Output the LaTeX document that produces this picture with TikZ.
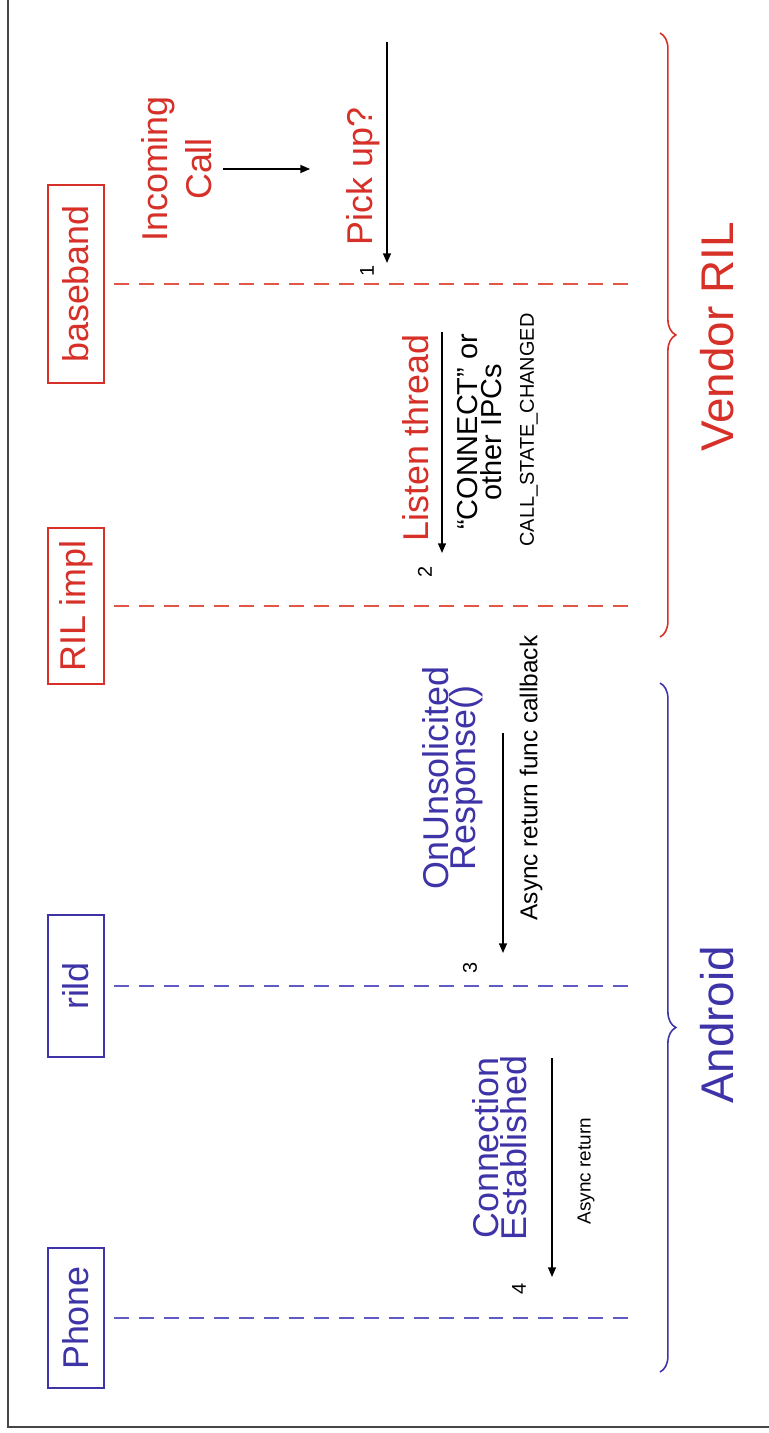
\documentclass[tikz,border=0pt]{standalone}
\usepackage{fontspec}
\setmainfont{Liberation Sans}
\usetikzlibrary{arrows.meta,decorations.pathreplacing}
\definecolor{vred}{RGB}{214,48,40}
\definecolor{vredl}{RGB}{226,86,72}
\definecolor{vblue}{RGB}{62,52,168}
\definecolor{vbluel}{RGB}{96,90,196}
\definecolor{framec}{RGB}{70,70,70}
\tikzset{
  lbl/.style={rotate=90, inner sep=0pt},
  big/.style={font=\fontsize{20.41}{24.94}\selectfont},
  actor/.style={draw, line width=1.1pt, rotate=90, inner sep=0pt,
    minimum height=32.3pt, font=\fontsize{20.41}{24}\selectfont},
  life/.style={line width=1.1pt, dash pattern=on 8.5pt off 5.7pt, shorten <=5.1pt},
  msg/.style={-{Triangle[length=5.5pt,width=4.5pt]}, line width=0.85pt, black},
  brc/.style={decorate, decoration={brace, amplitude=9pt}, line width=0.9pt},
  num/.style={lbl, font=\fontsize{11.34}{13}\selectfont, black},
}
\begin{document}
\begin{tikzpicture}[x=0.02cm, y=-0.02cm]
\useasboundingbox (0,0) rectangle (768,1433);
\fill[white] (0,0) rectangle (768,1433);
% frame
\draw[framec, line width=1.2pt] (8,-5) -- (8,1427) -- (775,1427);

% actors
\node[actor, draw=vred, text=vred, minimum width=112.3pt] (bb) at (76,284) {baseband};
\node[actor, draw=vred, text=vred, minimum width=88.4pt] (ril) at (76,606) {RIL impl};
\node[actor, draw=vblue, text=vblue, minimum width=80.5pt] (rild) at (76,986) {rild};
\node[actor, draw=vblue, text=vblue, minimum width=79.9pt] (phone) at (76,1318) {Phone};

% lifeline ends
\coordinate (bbEnd) at (637,284);
\coordinate (rilEnd) at (637,606);
\coordinate (rildEnd) at (637,986);
\coordinate (phoneEnd) at (637,1318);
\draw[life, vredl] (bb.south) -- (bbEnd);
\draw[life, vredl] (ril.south) -- (rilEnd);
\draw[life, vbluel] (rild.south) -- (rildEnd);
\draw[life, vbluel] (phone.south) -- (phoneEnd);

% labels
\node[lbl, big, text=vred, align=center] (inc) at (177,169) {Incoming\\Call};
\node[lbl, big, text=vred] (pick) at (363,176.5) {Pick up?};
\node[lbl, big, text=vred] (listen) at (416,438) {Listen thread};
\node[lbl, text=black, align=center, font=\fontsize{16.44}{13.61}\selectfont] (ipc) at (479.5,432) {“CONNECT” or\\other IPCs};
\node[lbl, text=black, font=\fontsize{11.34}{13}\selectfont] (cs) at (529,430) {CALL\_STATE\_CHANGED};
\node[lbl, text=vblue, align=center, font=\fontsize{20.41}{15.31}\selectfont] (onu) at (453,778) {OnUnsolicited\\Response()};
\node[lbl, text=black, font=\fontsize{13.89}{16}\selectfont] (as1) at (531,778) {Async return func callback};
\node[lbl, text=vblue, align=center, font=\fontsize{20.41}{15.87}\selectfont] (ce) at (500,1148) {Connection\\Established};
\node[lbl, text=black, font=\fontsize{10.77}{13}\selectfont] (as2) at (586,1171) {Async return};

\node[num] (n1) at (367,271) {1};
\node[num] (n2) at (425,572) {2};
\node[num] (n3) at (470,968) {3};
\node[num] (n4) at (519,1289) {4};

% incoming -> pick up
\draw[msg, shorten <=6.2pt, shorten >=20.4pt] (inc.south) -- (inc.south -| pick.north);

% message arrows
\coordinate (m1s) at (387,42);   \coordinate (m1e) at (387,263);
\coordinate (m2s) at (442,332);  \coordinate (m2e) at (442,553);
\coordinate (m3s) at (503,733);  \coordinate (m3e) at (503,953);
\coordinate (m4s) at (552,1058); \coordinate (m4e) at (552,1277);
\draw[msg] (m1s) -- (m1e);
\draw[msg] (m2s) -- (m2e);
\draw[msg] (m3s) -- (m3e);
\draw[msg] (m4s) -- (m4e);

% braces
\coordinate (vt) at (660,33);  \coordinate (vb) at (660,637);
\coordinate (at) at (660,683); \coordinate (ab) at (660,1372);
\draw[brc, vred] (vt) -- (vb);
\draw[brc, vblue] (at) -- (ab);
\node[lbl, text=vred, font=\fontsize{26.08}{30}\selectfont] (vendor) at (717,337) {Vendor RIL};
\node[lbl, text=vblue, font=\fontsize{26.08}{30}\selectfont] (android) at (717,1025) {Android};
\end{tikzpicture}
\end{document}
